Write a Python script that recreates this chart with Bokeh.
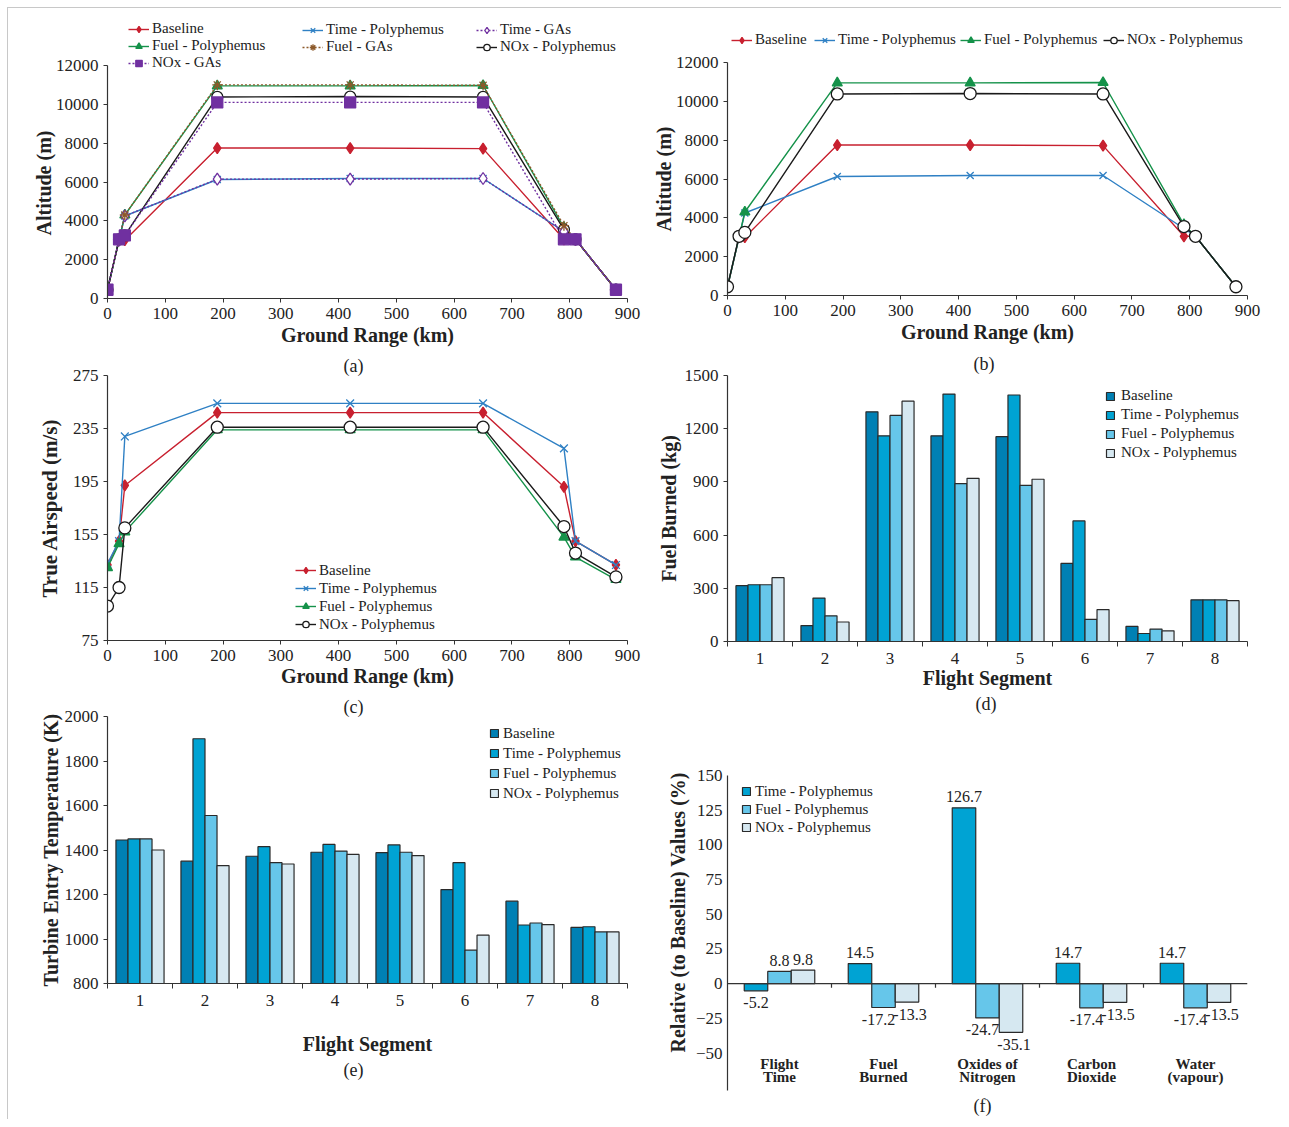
import numpy as np
from bokeh.plotting import figure
from bokeh.models import Legend, LegendItem, FixedTicker, Title, Span, Range1d
from bokeh.layouts import row, column
from bokeh.embed import file_html
from bokeh.resources import INLINE
from bokeh.core.properties import value

FONT = "Liberation Serif"

# ---------------- data ----------------
ground_range = [0, 20, 30, 190, 420, 650, 790, 810, 880]
ground_ticks = [0, 100, 200, 300, 400, 500, 600, 700, 800, 900]

alt_baseline = [450, 3000, 3000, 7750, 7750, 7720, 3050, 3050, 450]
alt_time_poly = [450, 3000, 4250, 6130, 6180, 6180, 3450, 3050, 450]
alt_fuel_poly = [450, 3000, 4300, 10950, 10950, 10970, 3650, 3050, 450]
alt_nox_poly = [450, 3050, 3250, 10380, 10400, 10380, 3550, 3050, 450]
alt_time_gas = [450, 3000, 4250, 6150, 6150, 6180, 3450, 3050, 450]
alt_fuel_gas = [450, 3000, 4300, 11000, 11000, 10980, 3750, 3050, 450]
alt_nox_gas = [450, 3050, 3250, 10100, 10100, 10100, 3050, 3050, 450]
alt_ticks = [0, 2000, 4000, 6000, 8000, 10000, 12000]

tas_baseline = [132, 150, 192, 247, 247, 247, 191, 150, 132]
tas_time_poly = [133, 150, 229, 254, 254, 254, 220, 150, 132]
tas_fuel_poly = [130, 148, 157, 234, 234, 234, 153, 138, 121]
tas_nox_poly = [101, 115, 160, 236, 236, 236, 161, 141, 123]
tas_ticks = [75, 115, 155, 195, 235, 275]

segments = ["1", "2", "3", "4", "5", "6", "7", "8"]
fuel_baseline = [315, 90, 1295, 1160, 1155, 440, 85, 235]
fuel_time = [320, 245, 1160, 1395, 1390, 680, 45, 235]
fuel_fuel = [320, 145, 1275, 890, 880, 125, 70, 235]
fuel_nox = [360, 110, 1355, 920, 915, 180, 60, 230]
fuel_ticks = [0, 300, 600, 900, 1200, 1500]

tet_baseline = [1445, 1350, 1372, 1390, 1388, 1222, 1170, 1052]
tet_time = [1450, 1900, 1415, 1425, 1423, 1343, 1063, 1055]
tet_fuel = [1450, 1555, 1343, 1395, 1390, 950, 1072, 1032]
tet_nox = [1400, 1330, 1337, 1380, 1375, 1017, 1065, 1032]
tet_ticks = [800, 1000, 1200, 1400, 1600, 1800, 2000]

impact_categories = ["Flight\nTime", "Fuel\nBurned", "Oxides of\nNitrogen",
                     "Carbon\nDioxide", "Water\n(vapour)"]
rel_time = [-5.2, 14.5, 126.7, 14.7, 14.7]
rel_fuel = [8.8, -17.2, -24.7, -17.4, -17.4]
rel_nox = [9.8, -13.3, -35.1, -13.5, -13.5]
rel_ticks = [-50, -25, 0, 25, 50, 75, 100, 125, 150]

# ---------------- styles ----------------
RED = "#c8202f"
BLUE = "#2f80c4"
GREEN = "#15924a"
BLACK = "#1a1a1a"
PURPLE = "#7030a0"
BROWN = "#8c5a2b"
BAR_COLORS = ["#0080b4", "#00a3d3", "#66c6ea", "#d6e8f1"]
BAR_LINE = "#2a2a2a"
TXT = "#222222"


def base_fig(w, h, mbl, mbr, mbt, mbb, xr, yr, **kw):
    p = figure(width=w, height=h, x_range=xr, y_range=yr,
               output_backend="svg", toolbar_location=None,
               min_border_left=mbl, min_border_right=mbr,
               min_border_top=mbt, min_border_bottom=mbb, **kw)
    p.outline_line_color = None
    p.xgrid.visible = False
    p.ygrid.visible = False
    p.background_fill_color = "white"
    p.border_fill_color = "white"
    for ax in p.axis:
        ax.axis_line_color = "#333333"
        ax.axis_line_width = 1.2
        ax.major_tick_line_color = "#333333"
        ax.minor_tick_line_color = None
        ax.major_tick_in = 0
        ax.major_tick_out = 4
        ax.major_label_text_font = FONT
        ax.major_label_text_font_size = "17px"
        ax.major_label_text_color = TXT
        ax.axis_label_text_font = FONT
        ax.axis_label_text_font_style = "bold"
        ax.axis_label_text_font_size = "20px"
        ax.axis_label_text_color = TXT
        ax.axis_label_standoff = 2
    return p


def caption(p, text, offset, where="below", standoff=0):
    """Panel caption such as (a); placed with a pixel offset from the frame's left edge."""
    p.add_layout(Title(text=text, align="left", offset=offset, text_font=FONT,
                       text_font_size="18px", text_font_style="normal",
                       text_color=TXT, standoff=standoff), where)


def side_label(p, text, where, offset, size="20px", standoff=0):
    p.add_layout(Title(text=text, align="left", offset=offset, text_font=FONT,
                       text_font_size=size, text_font_style="bold",
                       text_color=TXT, standoff=standoff), where)


def place_legend(p, items, fx, fb, x, ytop, pitch, gw, gh, standoff):
    lg = Legend(items=items, location=(x - fx, fb - (ytop + pitch * len(items))),
                orientation="vertical", margin=0, padding=0, spacing=0,
                border_line_color=None, background_fill_alpha=0,
                label_text_font=FONT, label_text_font_size="15px",
                label_text_color=TXT, label_height=int(pitch),
                glyph_width=gw, glyph_height=gh, label_standoff=standoff)
    p.add_layout(lg, "center")


def series(p, y, color, marker, size, fill, dash="solid"):
    l = p.line(ground_range, y, line_color=color, line_width=1.4, line_dash=dash)
    s = p.scatter(ground_range, y, marker=marker, size=size, line_color=color,
                  fill_color=fill, line_width=1.3)
    return [l, s]


def line_axes(p, yticks):
    p.xaxis.ticker = FixedTicker(ticks=ground_ticks)
    p.yaxis.ticker = FixedTicker(ticks=yticks)


# ---------------- (a) ----------------
# frame spans 18..298 px; 12000 m sits 233 px above its bottom, the legend uses the top strip
A_TOP = 12000 * 280 / 233
pa = base_fig(641, 344, 99, 22, 10, 54, Range1d(0, 900), Range1d(0, A_TOP))
line_axes(pa, alt_ticks)
pa.yaxis.bounds = (0, 12000)
pa.xaxis.axis_label = "Ground Range (km)"
side_label(pa, "Altitude (m)", "left", 63, standoff=-4)
ra_base = series(pa, alt_baseline, RED, "diamond", 11, RED)
ra_time = series(pa, alt_time_poly, BLUE, "x", 10, BLUE)
ra_fuel = series(pa, alt_fuel_poly, GREEN, "triangle", 10, GREEN)
ra_nox = series(pa, alt_nox_poly, BLACK, "circle", 11, "white")
ra_tgas = series(pa, alt_time_gas, PURPLE, "diamond", 12, "white", dash="2 2")
ra_fgas = series(pa, alt_fuel_gas, BROWN, "asterisk", 10, BROWN, dash="2 2")
ra_ngas = series(pa, alt_nox_gas, PURPLE, "square", 11, PURPLE, dash="2 2")
FA_L, FA_B = 107, 298
place_legend(pa, [LegendItem(label="Baseline", renderers=ra_base),
                  LegendItem(label="Fuel - Polyphemus", renderers=ra_fuel),
                  LegendItem(label="NOx - GAs", renderers=ra_ngas)],
             FA_L, FA_B, 128, 23, 16, 21, 16, 3)
place_legend(pa, [LegendItem(label="Time - Polyphemus", renderers=ra_time),
                  LegendItem(label="Fuel - GAs", renderers=ra_fgas)],
             FA_L, FA_B, 302, 23, 16, 21, 16, 3)
place_legend(pa, [LegendItem(label="Time - GAs", renderers=ra_tgas),
                  LegendItem(label="NOx - Polyphemus", renderers=ra_nox)],
             FA_L, FA_B, 476, 23, 16, 21, 16, 3)

# ---------------- (b) ----------------
# frame spans 18..295 px vertically; 12000 m sits 233 px above its bottom
B_TOP = 12000 * 277 / 233
pb = base_fig(632, 341, 78, 34, 10, 54, Range1d(0, 900), Range1d(0, B_TOP))
line_axes(pb, alt_ticks)
pb.yaxis.bounds = (0, 12000)
pb.xaxis.axis_label = "Ground Range (km)"
side_label(pb, "Altitude (m)", "left", 64, standoff=-4)
rb_base = series(pb, alt_baseline, RED, "diamond", 11, RED)
rb_time = series(pb, alt_time_poly, BLUE, "x", 10, BLUE)
rb_fuel = series(pb, alt_fuel_poly, GREEN, "triangle", 10, GREEN)
rb_nox = series(pb, alt_nox_poly, BLACK, "circle", 12, "white")
FB_L, FB_B = 727, 295
for lab, rr, xx in [("Baseline", rb_base, 731), ("Time - Polyphemus", rb_time, 814),
                    ("Fuel - Polyphemus", rb_fuel, 960), ("NOx - Polyphemus", rb_nox, 1103)]:
    place_legend(pb, [LegendItem(label=lab, renderers=rr)], FB_L, FB_B, xx, 32, 16, 21, 16, 3)

# ---------------- (c) ----------------
pc = base_fig(641, 341, 99, 22, 23, 53, Range1d(0, 900), Range1d(75, 275))
line_axes(pc, tas_ticks)
pc.xaxis.axis_label = "Ground Range (km)"
pc.xaxis.axis_label_standoff = 1
pc.yaxis.axis_label = "True Airspeed (m/s)"
pc.yaxis.axis_label_text_font_size = "21px"
pc.yaxis.axis_label_standoff = 8
caption(pc, "(a)", 236, "above")
rc_base = series(pc, tas_baseline, RED, "diamond", 11, RED)
rc_time = series(pc, tas_time_poly, BLUE, "x", 11, BLUE)
rc_fuel = series(pc, tas_fuel_poly, GREEN, "triangle", 10, GREEN)
rc_nox = series(pc, tas_nox_poly, BLACK, "circle", 12, "white")
place_legend(pc, [LegendItem(label="Baseline", renderers=rc_base),
                  LegendItem(label="Time - Polyphemus", renderers=rc_time),
                  LegendItem(label="Fuel - Polyphemus", renderers=rc_fuel),
                  LegendItem(label="NOx - Polyphemus", renderers=rc_nox)],
             107, 640, 295, 561, 18, 21, 16, 3)


# ---------------- bar panels ----------------
def bar_panel(w, h, mbl, mbr, mbt, mbb, ylo, yhi, yticks, series_vals, ylabel):
    n = len(segments)
    p = base_fig(w, h, mbl, mbr, mbt, mbb, Range1d(0.5, n + 0.5), Range1d(ylo, yhi))
    centers = np.arange(1, n + 1)
    bw = 0.185
    offs = [-1.5 * bw, -0.5 * bw, 0.5 * bw, 1.5 * bw]
    rends = []
    for vals, col, off in zip(series_vals, BAR_COLORS, offs):
        r = p.vbar(x=centers + off, top=vals, bottom=ylo, width=bw, fill_color=col,
                   line_color=BAR_LINE, line_width=1.2)
        rends.append(r)
    p.xaxis.ticker = FixedTicker(ticks=[int(c) for c in centers],
                                 minor_ticks=list(np.arange(0.5, n + 1, 1.0)))
    p.xaxis.major_label_overrides = {int(c): s for c, s in zip(centers, segments)}
    p.xaxis.major_tick_out = 0
    p.xaxis.minor_tick_line_color = "#333333"
    p.xaxis.minor_tick_out = 5
    p.xaxis.minor_tick_in = 0
    p.xaxis.major_label_standoff = 6
    p.yaxis.ticker = FixedTicker(ticks=yticks)
    p.xaxis.axis_label = "Flight Segment"
    p.yaxis.axis_label = ylabel
    return p, rends


NAMES4 = ["Baseline", "Time - Polyphemus", "Fuel - Polyphemus", "NOx - Polyphemus"]

pd_, rd = bar_panel(632, 367, 78, 34, 26, 75, 0, 1500, fuel_ticks,
                    [fuel_baseline, fuel_time, fuel_fuel, fuel_nox], "Fuel Burned (kg)")
pd_.yaxis.axis_label_standoff = 2
pd_.xaxis.axis_label_standoff = 0
caption(pd_, "(b)", 246, "above", standoff=3)
caption(pd_, "(d)", 248)
place_legend(pd_, [LegendItem(label=nm, renderers=[r]) for nm, r in zip(NAMES4, rd)],
             727, 641, 1105, 386, 19, 10, 10, 6)

pe, re_ = bar_panel(641, 426, 99, 22, 23, 136, 800, 2000, tet_ticks,
                    [tet_baseline, tet_time, tet_fuel, tet_nox], "Turbine Entry Temperature (K)")
pe.xaxis.axis_label_standoff = 24
pe.yaxis.axis_label_standoff = 0
caption(pe, "(c)", 236, "above")
caption(pe, "(e)", 236)
place_legend(pe, [LegendItem(label=nm, renderers=[r]) for nm, r in zip(NAMES4, re_)],
             107, 983, 489, 723, 20, 10, 10, 4)

# ---------------- (f) ----------------
ncat = len(impact_categories)
pf = base_fig(632, 403, 78, 34, 59, 29, Range1d(0.5, ncat + 0.5), Range1d(-77, 150),
              x_axis_location=None)
pf.yaxis.ticker = FixedTicker(ticks=rel_ticks)
pf.yaxis.major_tick_out = 0
side_label(pf, "Relative (to Baseline) Values (%)", "left", 38, size="20px", standoff=7)
pf.add_layout(Span(location=0, dimension="width", line_color="#333333", line_width=1.2))
cx = np.arange(1, ncat + 1)
pf.segment(x0=list(cx[:-1] + 0.5), y0=0, x1=list(cx[:-1] + 0.5), y1=-3,
           line_color="#333333", line_width=1.2)
bwf = 0.226
rf = []
for vals, col, off, ldx in zip([rel_time, rel_fuel, rel_nox], BAR_COLORS[1:],
                               [-bwf, 0, bwf], [0, -5, 3]):
    r = pf.vbar(x=cx + off, top=vals, bottom=0, width=bwf, fill_color=col,
                line_color=BAR_LINE, line_width=1.2)
    rf.append(r)
    xs = list(cx + off)
    up_x = [x for x, v in zip(xs, vals) if v >= 0]
    up_v = [v for v in vals if v >= 0]
    dn_x = [x for x, v in zip(xs, vals) if v < 0]
    dn_v = [v for v in vals if v < 0]
    pf.text(x=up_x, y=up_v, text=[f"{v:.1f}" for v in up_v], text_align="center",
            text_baseline="middle", y_offset=-11, text_font=value(FONT),
            text_font_size="16px", text_color=TXT)
    pf.text(x=dn_x, y=dn_v, text=[f"{v:.1f}" for v in dn_v], text_align="center",
            text_baseline="middle", x_offset=ldx, y_offset=12, text_font=value(FONT),
            text_font_size="16px", text_color=TXT)
line1 = [c.split("\n")[0] for c in impact_categories]
line2 = [c.split("\n")[1] for c in impact_categories]
for txt, dy in [(line1, -27), (line2, -14)]:
    pf.text(x=list(cx), y=-77, text=txt, text_align="center", text_baseline="middle",
            y_offset=dy, text_font=value(FONT), text_font_size="15px",
            text_font_style="bold", text_color=TXT)
caption(pf, "(f)", 246, standoff=6)
place_legend(pf, [LegendItem(label=nm, renderers=[r]) for nm, r in zip(NAMES4[1:], rf)],
             727, 1090, 741, 782, 18, 10, 10, 4)

layout = row(column(pa, pc, pe), column(pb, pd_, pf), margin=(7, 0, 0, 7),
             styles={"border-top": "1px solid #c8c8c8", "border-left": "1px solid #c8c8c8"})

open("out.html", "w").write(file_html(layout, INLINE))
